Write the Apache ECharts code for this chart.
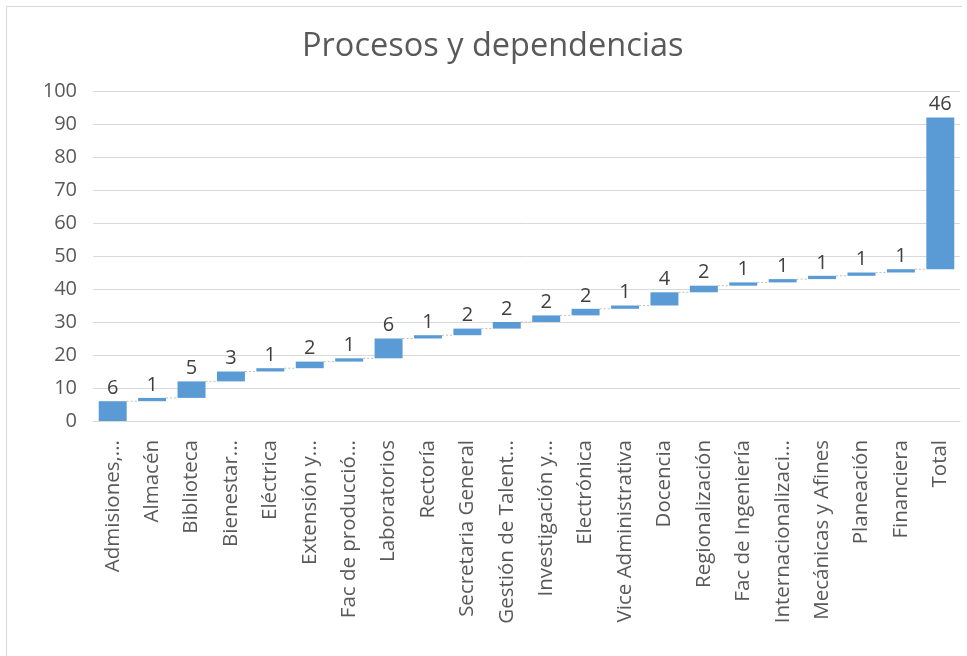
<!DOCTYPE html>
<html>
<head>
<meta charset="utf-8">
<script src="https://cdn.jsdelivr.net/npm/echarts@6/dist/echarts.min.js"></script>
<style>html,body{margin:0;padding:0;background:#fff}#c{width:967px;height:656px}</style>
</head>
<body>
<div id="c"></div>
<script>
const categories = ["Admisiones,...","Almacén","Biblioteca","Bienestar...","Eléctrica","Extensión y...","Fac de producció...","Laboratorios","Rectoría","Secretaria General","Gestión de Talent...","Investigación y...","Electrónica","Vice Administrativa","Docencia","Regionalización","Fac de Ingeniería","Internacionalizaci...","Mecánicas y Afines","Planeación","Financiera","Total"];
const values = [6,1,5,3,1,2,1,6,1,2,2,2,2,1,4,2,1,1,1,1,1,46];
const yTicks = [0,10,20,30,40,50,60,70,80,90,100];

// waterfall bases: running sum of previous values (Total plotted as in the reference, on top of the running sum)
const bases = [];
let run = 0;
for (let i = 0; i < values.length; i++) { bases.push(run); run += values[i]; }
// connector levels between bar i and bar i+1
const connectors = [];
for (let i = 0; i < values.length - 1; i++) connectors.push([i, bases[i] + values[i]]);

const FONT = '"Open Sans", sans-serif';
const chart = echarts.init(document.getElementById('c'));
chart.setOption({
  animation: false,
  title: { text: 'Procesos y dependencias', left: 297, top: 25,
    textStyle: { fontFamily: FONT, fontSize: 32.5, fontWeight: 'normal', color: '#595959' } },
  grid: { left: 93, right: 7, top: 91, bottom: 235, containLabel: false },
  xAxis: { type: 'category', data: categories,
    axisLine: { lineStyle: { color: '#d9d9d9' } }, axisTick: { show: false },
    axisLabel: { rotate: 90, interval: 0, margin: 19, fontFamily: FONT, fontSize: 20.5, color: '#595959' } },
  yAxis: { type: 'value', min: yTicks[0], max: yTicks[yTicks.length-1], interval: 10,
    axisLine: { show: false }, axisTick: { show: false },
    splitLine: { lineStyle: { color: '#d9d9d9' } },
    axisLabel: { margin: 16, fontFamily: FONT, fontSize: 20, color: '#595959' } },
  series: [
    { type: 'custom', silent: true, z: 1, data: connectors,
      renderItem: function (params, api) {
        const i = api.value(0), v = api.value(1);
        const w = api.size([1, 0])[0];
        const p1 = api.coord([i, v]), p2 = api.coord([i + 1, v]);
        return { type: 'line',
          shape: { x1: p1[0] + w * 0.355, y1: p1[1], x2: p2[0] - w * 0.355, y2: p2[1] },
          style: { stroke: '#bfbfbf', lineWidth: 1, lineDash: [2, 2] } };
      } },
    { type: 'bar', stack: 'w', data: bases, itemStyle: { color: 'transparent' }, silent: true, barWidth: '71%' },
    { type: 'bar', stack: 'w', data: values, itemStyle: { color: '#5b9bd5' }, barWidth: '71%',
      label: { show: true, position: 'top', distance: 3, fontFamily: FONT, fontSize: 20, color: '#404040' } }
  ],
  graphic: [
    { type: 'line', shape: { x1: 6.5, y1: 6.5, x2: 962, y2: 6.5 }, style: { stroke: '#d9d9d9', lineWidth: 1 } },
    { type: 'line', shape: { x1: 6.5, y1: 6.5, x2: 6.5, y2: 656 }, style: { stroke: '#d9d9d9', lineWidth: 1 } }
  ]
});
</script>
</body>
</html>
